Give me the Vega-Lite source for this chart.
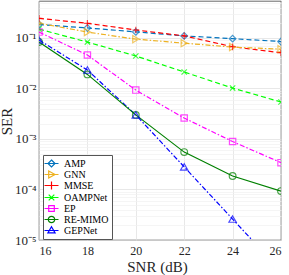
{
  "$schema": "https://vega.github.io/schema/vega-lite/v6.json",
  "autosize": {"type": "none"},
  "width": 242,
  "height": 239,
  "padding": {"left": 39, "top": 1, "right": 8, "bottom": 35},
  "background": "white",
  "config": {
    "view": {"stroke": "#262626", "strokeWidth": 0.7},
    "font": "Liberation Serif"
  },
  "data": {
    "values": [
      {"method": "AMP", "snr": 16, "ser": 0.185},
      {"method": "AMP", "snr": 18, "ser": 0.158},
      {"method": "AMP", "snr": 20, "ser": 0.132},
      {"method": "AMP", "snr": 22, "ser": 0.11},
      {"method": "AMP", "snr": 24, "ser": 0.097},
      {"method": "AMP", "snr": 26, "ser": 0.085},
      {"method": "GNN", "snr": 16, "ser": 0.196},
      {"method": "GNN", "snr": 18, "ser": 0.131},
      {"method": "GNN", "snr": 20, "ser": 0.095},
      {"method": "GNN", "snr": 22, "ser": 0.079},
      {"method": "GNN", "snr": 24, "ser": 0.066},
      {"method": "GNN", "snr": 26, "ser": 0.06},
      {"method": "MMSE", "snr": 16, "ser": 0.245},
      {"method": "MMSE", "snr": 18, "ser": 0.195},
      {"method": "MMSE", "snr": 20, "ser": 0.144},
      {"method": "MMSE", "snr": 22, "ser": 0.11},
      {"method": "MMSE", "snr": 24, "ser": 0.067},
      {"method": "MMSE", "snr": 26, "ser": 0.051},
      {"method": "OAMPNet", "snr": 16, "ser": 0.15},
      {"method": "OAMPNet", "snr": 18, "ser": 0.083},
      {"method": "OAMPNet", "snr": 20, "ser": 0.044},
      {"method": "OAMPNet", "snr": 22, "ser": 0.0212},
      {"method": "OAMPNet", "snr": 24, "ser": 0.0102},
      {"method": "OAMPNet", "snr": 26, "ser": 0.0054},
      {"method": "EP", "snr": 16, "ser": 0.131},
      {"method": "EP", "snr": 18, "ser": 0.046},
      {"method": "EP", "snr": 20, "ser": 0.0093},
      {"method": "EP", "snr": 22, "ser": 0.0026},
      {"method": "EP", "snr": 24, "ser": 0.00089},
      {"method": "EP", "snr": 26, "ser": 0.00034},
      {"method": "RE-MIMO", "snr": 16, "ser": 0.083},
      {"method": "RE-MIMO", "snr": 18, "ser": 0.019},
      {"method": "RE-MIMO", "snr": 20, "ser": 0.003},
      {"method": "RE-MIMO", "snr": 22, "ser": 0.00055},
      {"method": "RE-MIMO", "snr": 24, "ser": 0.000185},
      {"method": "RE-MIMO", "snr": 26, "ser": 0.000093},
      {"method": "GEPNet", "snr": 16, "ser": 0.091},
      {"method": "GEPNet", "snr": 18, "ser": 0.0232},
      {"method": "GEPNet", "snr": 20, "ser": 0.003},
      {"method": "GEPNet", "snr": 22, "ser": 0.00028},
      {"method": "GEPNet", "snr": 24, "ser": 0.000026},
      {"method": "GEPNet", "snr": 26, "ser": 0.0000024}
    ]
  },
  "encoding": {
    "x": {
      "field": "snr", "type": "quantitative",
      "scale": {"domain": [16, 26], "nice": false, "zero": false},
      "axis": {
        "values": [16, 18, 20, 22, 24, 26],
        "title": "SNR (dB)",
        "titleFont": "Liberation Serif", "titleFontSize": 15, "titleFontWeight": "normal", "titleColor": "#262626",
        "titleX": 118, "titleY": 31, "titleBaseline": "alphabetic", "titleAnchor": "middle", "titleAlign": "center",
        "labelFont": "Liberation Serif", "labelFontSize": 12, "labelColor": "#262626",
        "labelPadding": 5, "tickSize": 0, "domain": false,
        "gridColor": "#dedede", "gridWidth": 0.7
      }
    },
    "y": {
      "field": "ser", "type": "quantitative",
      "scale": {"type": "log", "domain": [0.00001, 0.54], "nice": false},
      "axis": {
        "values": [0.00001, 0.00002, 0.00003, 0.00004, 0.00005, 0.00006, 0.00007, 0.00008, 0.00009,
                   0.0001, 0.0002, 0.0003, 0.0004, 0.0005, 0.0006, 0.0007, 0.0008, 0.0009,
                   0.001, 0.002, 0.003, 0.004, 0.005, 0.006, 0.007, 0.008, 0.009,
                   0.01, 0.02, 0.03, 0.04, 0.05, 0.06, 0.07, 0.08, 0.09,
                   0.1, 0.2, 0.3, 0.4, 0.5],
        "labelExpr": "abs(log(datum.value)/LN10 - round(log(datum.value)/LN10)) < 0.000001 ? '10⁻' + ['⁰','¹','²','³','⁴','⁵','⁶'][-round(log(datum.value)/LN10)] : ''",
        "title": "SER",
        "titleFont": "Liberation Serif", "titleFontSize": 15, "titleFontWeight": "normal", "titleColor": "#262626",
        "titleX": -28, "titleY": 120, "titleAngle": -90, "titleBaseline": "alphabetic", "titleAlign": "center",
        "labelFont": "Liberation Serif", "labelFontSize": 13, "labelColor": "#262626",
        "labelPadding": 3, "tickSize": 0, "domain": false, "labelOverlap": false,
        "gridColor": {"condition": {"test": "abs(log(datum.value)/LN10 - round(log(datum.value)/LN10)) < 0.000001", "value": "#dedede"}, "value": "#f0f0f0"},
        "gridWidth": 0.7
      }
    },
    "color": {
      "field": "method", "type": "nominal",
      "scale": {
        "domain": ["AMP", "GNN", "MMSE", "OAMPNet", "EP", "RE-MIMO", "GEPNet"],
        "range": ["#0072BD", "#EDB120", "#FF0000", "#00FF00", "#FF00FF", "#008000", "#0000FF"]
      },
      "legend": {
        "title": null,
        "orient": "none", "legendX": 4, "legendY": 154,
        "labelFont": "Liberation Serif", "labelFontSize": 10, "labelColor": "#000000",
        "symbolSize": 64, "symbolStrokeWidth": 1.2, "symbolFillColor": "transparent",
        "labelOffset": 7.5, "padding": 3.5, "rowPadding": -2.5,
        "strokeColor": "#555555", "fillColor": "white",
        "encoding": {
          "symbols": {
            "fill": {"value": "transparent"},
            "shape": {"value": {"expr": "datum.value === 'AMP' ? 'M-1.75,0L1.75,0M0,-0.875L0.875,0L0,0.875L-0.875,0Z' : datum.value === 'GNN' ? 'M-1.75,0L1.75,0M-0.7,-0.875L0.875,0L-0.7,0.875Z' : datum.value === 'MMSE' ? 'M-1.75,0L1.75,0M0,-1L0,1' : datum.value === 'OAMPNet' ? 'M-1.75,0L1.75,0M-0.7,-0.7L0.7,0.7M-0.7,0.7L0.7,-0.7' : datum.value === 'EP' ? 'M-1.75,0L1.75,0M-0.7,-0.7L0.7,-0.7L0.7,0.7L-0.7,0.7Z' : datum.value === 'RE-MIMO' ? 'M-1.75,0L1.75,0M0.8,0A0.8,0.8,0,1,1,-0.8,0A0.8,0.8,0,1,1,0.8,0' : 'M-1.75,0L1.75,0M0,-0.95L0.9,0.6L-0.9,0.6Z'"}}
          }
        }
      }
    }
  },
  "layer": [
    {
      "transform": [{"filter": {"field": "method", "oneOf": ["AMP", "MMSE", "OAMPNet"]}}],
      "mark": {"type": "line", "strokeWidth": 1.2, "clip": true, "strokeDash": [5, 3], "filled": false}
    },
    {
      "transform": [{"filter": {"field": "method", "oneOf": ["GNN", "EP", "GEPNet"]}}],
      "mark": {"type": "line", "strokeWidth": 1.2, "clip": true, "strokeDash": [5, 2, 1.5, 2], "filled": false}
    },
    {
      "transform": [{"filter": {"field": "method", "oneOf": ["RE-MIMO"]}}],
      "mark": {"type": "line", "strokeWidth": 1.2, "clip": true, "filled": false}
    },
    {
      "transform": [{"filter": {"field": "method", "equal": "AMP"}}],
      "mark": {"type": "point", "filled": false, "strokeWidth": 1.2, "size": 45, "clip": true, "shape": "diamond"}
    },
    {
      "transform": [{"filter": {"field": "method", "equal": "GNN"}}],
      "mark": {"type": "point", "filled": false, "strokeWidth": 1.2, "size": 50, "clip": true, "shape": "triangle-right"}
    },
    {
      "transform": [{"filter": {"field": "method", "equal": "MMSE"}}],
      "mark": {"type": "point", "filled": false, "strokeWidth": 1.2, "size": 45, "clip": true, "shape": "M-1,0L1,0M0,-1L0,1"}
    },
    {
      "transform": [{"filter": {"field": "method", "equal": "OAMPNet"}}],
      "mark": {"type": "point", "filled": false, "strokeWidth": 1.2, "size": 45, "clip": true, "shape": "M-0.8,-0.8L0.8,0.8M-0.8,0.8L0.8,-0.8"}
    },
    {
      "transform": [{"filter": {"field": "method", "equal": "EP"}}],
      "mark": {"type": "point", "filled": false, "strokeWidth": 1.2, "size": 40, "clip": true, "shape": "square"}
    },
    {
      "transform": [{"filter": {"field": "method", "equal": "RE-MIMO"}}],
      "mark": {"type": "point", "filled": false, "strokeWidth": 1.2, "size": 45, "clip": true, "shape": "circle"}
    },
    {
      "transform": [{"filter": {"field": "method", "equal": "GEPNet"}}],
      "mark": {"type": "point", "filled": false, "strokeWidth": 1.2, "size": 55, "clip": true, "shape": "triangle-up"}
    }
  ]
}
